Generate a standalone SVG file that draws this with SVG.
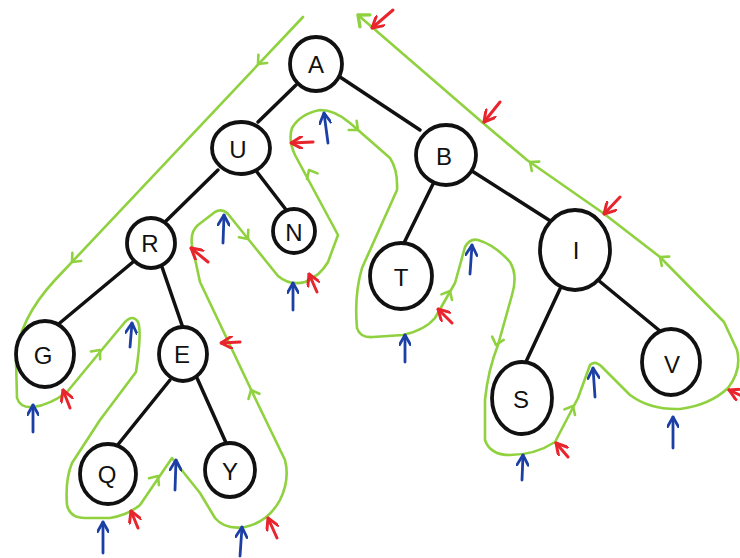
<svg xmlns="http://www.w3.org/2000/svg" width="740" height="558" viewBox="0 0 740 558">
<style>
.node ellipse{fill:#fff;stroke:#111;stroke-width:3.8}
.node text{font-family:"Liberation Sans",Arial,sans-serif;font-size:24px;fill:#111;text-anchor:middle;dominant-baseline:central}
.edge{stroke:#111;stroke-width:3.5;stroke-linecap:round;fill:none}
.tour{stroke:#8fd13f;stroke-width:2.6;fill:none;stroke-linejoin:round;stroke-linecap:round}
.chev{stroke:#8fd13f;stroke-width:2.6;fill:none;stroke-linecap:round;stroke-linejoin:round}
.red{stroke:#e8242c;stroke-width:3;fill:none;stroke-linecap:round;marker-end:url(#rh)}
.blue{stroke:#1c3fa6;stroke-width:2.8;fill:none;stroke-linecap:round;marker-end:url(#bh)}
</style>
<defs>
<marker id="rh" viewBox="0 0 10 10" refX="9" refY="5" markerWidth="4.5" markerHeight="4.5" orient="auto" markerUnits="strokeWidth">
<path d="M1,0.5 L9,5 L1,9.5" fill="none" stroke="#e8242c" stroke-width="2.2" stroke-linecap="round" stroke-linejoin="round"/>
</marker>
<marker id="bh" viewBox="0 0 10 10" refX="9" refY="5" markerWidth="4.5" markerHeight="4.5" orient="auto" markerUnits="strokeWidth">
<path d="M1,0.5 L9,5 L1,9.5" fill="none" stroke="#1c3fa6" stroke-width="2.2" stroke-linecap="round" stroke-linejoin="round"/>
</marker>
<path id="ch" d="M-7,-6 L0,0 L-7,6"/>
</defs>
<rect width="740" height="558" fill="#fff"/>
<g id="connectors">
<path class="edge" d="M296,85 L258,122"/>
<path class="edge" d="M340,77 L420,130"/>
<path class="edge" d="M218,170 L165,222"/>
<path class="edge" d="M257,172 L287,211"/>
<path class="edge" d="M133,262 L55,327"/>
<path class="edge" d="M162,267 L183,328"/>
<path class="edge" d="M170,380 L116,447"/>
<path class="edge" d="M197,378 L227,445"/>
<path class="edge" d="M433,184 L403,245"/>
<path class="edge" d="M472,171 L552,222"/>
<path class="edge" d="M560,289 L524,366"/>
<path class="edge" d="M598,280 L660,331"/>
</g>
<g id="tour">
<path class="tour" d="M303,17 L55,280 Q18,320 16,360 L17,398 Q20,408 33,407 Q50,405 67,392 L100,352 L125,322 Q133,314 138,322 Q142,332 136,372 L100,420 L72,463 Q65,480 67,505 Q70,518 85,518 L110,518 Q128,515 140,505 L172,458 L200,493 L215,518 Q225,530 245,527 Q268,522 280,500 Q290,480 285,460 L256,400 L200,282 L192,245 Q190,232 198,225 L215,212 Q222,208 228,214 L278,276 Q290,286 305,282 Q320,276 328,262 L338,235 L295,155 Q288,140 292,128 Q300,114 320,110 Q335,110 350,123 L390,158 Q398,170 397,190 L362,268 Q354,295 357,328 Q360,338 373,337 L403,335 Q425,330 435,318 L455,283 L465,247 Q470,238 478,240 Q495,245 510,262 Q518,275 512,295 L498,345 Q488,370 485,400 L485,440 Q490,455 510,455 Q535,455 555,442 L578,398 L590,365 Q595,360 602,367 L630,395 Q650,410 680,409 Q710,405 728,388 Q742,370 737,350 L724,322 L660,257 L603,213 L527,160 L483,123 L358,15"/>
<use href="#ch" class="chev" transform="translate(258,64) rotate(133)"/>
<use href="#ch" class="chev" transform="translate(72,262) rotate(133)"/>
<use href="#ch" class="chev" transform="translate(100,350) rotate(-50)"/>
<use href="#ch" class="chev" transform="translate(158,476) rotate(-55)"/>
<use href="#ch" class="chev" transform="translate(251,390) rotate(-115)"/>
<use href="#ch" class="chev" transform="translate(248,239) rotate(51)"/>
<use href="#ch" class="chev" transform="translate(309,170) rotate(-118)"/>
<use href="#ch" class="chev" transform="translate(358,130) rotate(41)"/>
<use href="#ch" class="chev" transform="translate(450,291) rotate(-62)"/>
<use href="#ch" class="chev" transform="translate(496,345) rotate(106)"/>
<use href="#ch" class="chev" transform="translate(573,406) rotate(-62)"/>
<use href="#ch" class="chev" transform="translate(660,257) rotate(-142)"/>
<use href="#ch" class="chev" transform="translate(530,162) rotate(-142)"/>
<use href="#ch" class="chev" transform="translate(358,15) rotate(-140) scale(1.3)"/>
</g>
<g id="red-arrows">
<path class="red" d="M393,10 L372,28"/>
<path class="red" d="M500,102 L484,122"/>
<path class="red" d="M620,197 L604,214"/>
<path class="red" d="M748,399 L729,390"/>
<path class="red" d="M568,457 L556,443"/>
<path class="red" d="M452,323 L438,309"/>
<path class="red" d="M317,292 L309,274"/>
<path class="red" d="M313,142 L291,143"/>
<path class="red" d="M208,262 L191,248"/>
<path class="red" d="M240,342 L221,343"/>
<path class="red" d="M70,408 L63,390"/>
<path class="red" d="M138,528 L131,511"/>
<path class="red" d="M277,538 L268,518"/>
</g>
<g id="blue-arrows">
<path class="blue" d="M328,143 L324,113"/>
<path class="blue" d="M223,243 L224,215"/>
<path class="blue" d="M293,310 L293,283"/>
<path class="blue" d="M405,362 L405,335"/>
<path class="blue" d="M470,274 L472,245"/>
<path class="blue" d="M522,480 L523,455"/>
<path class="blue" d="M595,397 L593,368"/>
<path class="blue" d="M673,448 L673,417"/>
<path class="blue" d="M33,432 L33,405"/>
<path class="blue" d="M130,347 L132,323"/>
<path class="blue" d="M103,553 L103,522"/>
<path class="blue" d="M175,490 L176,460"/>
<path class="blue" d="M240,556 L242,527"/>
</g>
<g id="node-A" class="node"><ellipse cx="316" cy="64" rx="26" ry="27"/><text x="316" y="64">A</text></g>
<g id="node-U" class="node"><ellipse cx="241" cy="148" rx="29" ry="26"/><text x="238" y="149">U</text></g>
<g id="node-N" class="node"><ellipse cx="294" cy="231" rx="21" ry="22"/><text x="294" y="232">N</text></g>
<g id="node-R" class="node"><ellipse cx="151" cy="243" rx="24" ry="25"/><text x="150" y="243">R</text></g>
<g id="node-B" class="node"><ellipse cx="446" cy="155" rx="30" ry="30"/><text x="444" y="156">B</text></g>
<g id="node-T" class="node"><ellipse cx="401" cy="276" rx="31" ry="33"/><text x="401" y="277">T</text></g>
<g id="node-I" class="node"><ellipse cx="575" cy="250" rx="35" ry="40"/><text x="576" y="250">I</text></g>
<g id="node-G" class="node"><ellipse cx="45" cy="354" rx="29" ry="33"/><text x="43" y="355">G</text></g>
<g id="node-E" class="node"><ellipse cx="183" cy="354" rx="24" ry="27"/><text x="182" y="354">E</text></g>
<g id="node-Q" class="node"><ellipse cx="108" cy="474" rx="28" ry="30"/><text x="107" y="474">Q</text></g>
<g id="node-Y" class="node"><ellipse cx="230" cy="470" rx="25" ry="27"/><text x="230" y="471">Y</text></g>
<g id="node-S" class="node"><ellipse cx="522" cy="398" rx="30" ry="36"/><text x="521" y="399">S</text></g>
<g id="node-V" class="node"><ellipse cx="671" cy="362" rx="29" ry="33"/><text x="672" y="364">V</text></g>
</svg>
